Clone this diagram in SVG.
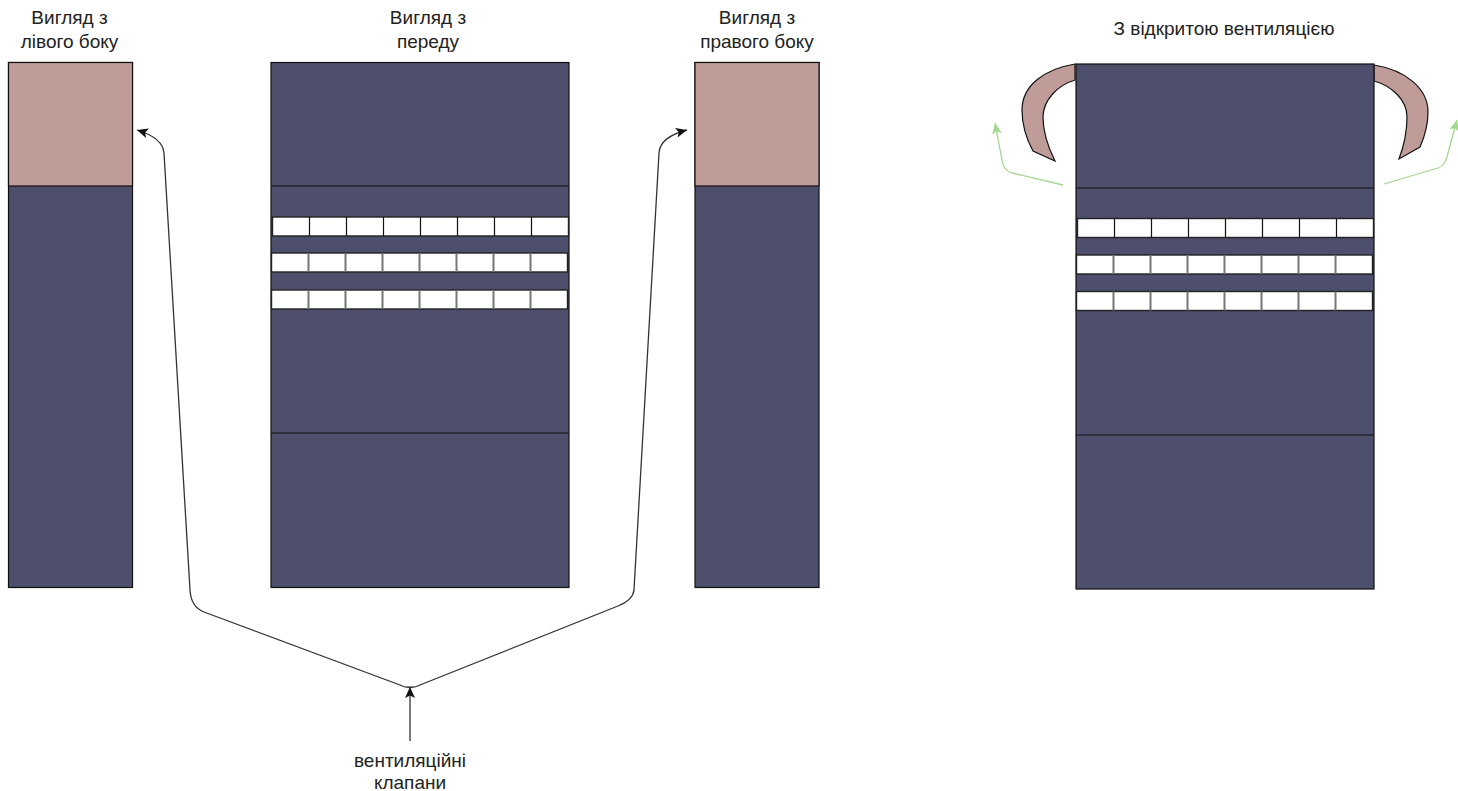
<svg xmlns="http://www.w3.org/2000/svg" width="1458" height="791" viewBox="0 0 1458 791">
<style>
text{font-family:"Liberation Sans",Arial,sans-serif;font-size:19px;fill:#222;text-anchor:middle}
.b{fill:#4d4f6c;stroke:#111;stroke-width:1.2}
.p{fill:#c09c98;stroke:#111;stroke-width:1.2}
.l{stroke:#111;stroke-width:1.2;fill:none}
.w{fill:#fff;stroke:#222;stroke-width:1.4}
.d{stroke:#777;stroke-width:2;fill:none}
.c{fill:none;stroke:#333;stroke-width:1.3}
.g{fill:none;stroke:#a5d68f;stroke-width:1.3}
</style>
<defs>
<marker id="ah" markerUnits="userSpaceOnUse" markerWidth="12" markerHeight="12" refX="11" refY="5" orient="auto"><path d="M0 0L11 5L0 10L2.5 5Z" fill="#111"/></marker>
<marker id="ag" markerUnits="userSpaceOnUse" markerWidth="12" markerHeight="12" refX="11" refY="5" orient="auto"><path d="M0 0L11 5L0 10L2.5 5Z" fill="#a5d68f"/></marker>
<g id="row"><rect class="w" x="0" y="0" width="296" height="19"/><path class="l" stroke-width="1.4" d="M37 0V19M74 0V19M111 0V19M148 0V19M185 0V19M222 0V19M259 0V19"/></g>
<g id="rowb"><rect class="w" x="0" y="0" width="296" height="19"/><path class="d" d="M37 0V19M74 0V19M111 0V19M148 0V19M185 0V19M222 0V19M259 0V19"/></g>
</defs>
<rect width="1458" height="791" fill="#fff"/>
<g id="left-view">
<rect class="b" x="8.500" y="62.500" width="124" height="525"/>
<rect class="p" x="8.500" y="62.500" width="124" height="123.500"/>
<text x="69.500" y="24">Вигляд з</text><text x="69.500" y="48">лівого боку</text>
</g>
<g id="front-view">
<rect class="b" x="271" y="62.500" width="298" height="525"/>
<path class="l" d="M271 186H569M271 433H569"/>
<use href="#row" x="272.500" y="217"/><use href="#rowb" x="271.500" y="253"/><use href="#rowb" x="271.500" y="290"/>
<text x="428" y="24">Вигляд з</text><text x="428" y="48">переду</text>
</g>
<g id="right-view">
<rect class="b" x="695" y="62.500" width="124" height="525"/>
<rect class="p" x="695" y="62.500" width="124" height="123.500"/>
<text x="757" y="24">Вигляд з</text><text x="757" y="48">правого боку</text>
</g>
<g id="open-view">
<path class="p" d="M1075 64C1045 69 1022 85 1022 110C1022 125 1027 140 1033 151L1055 161C1047 145 1043 130 1043 117C1043 100 1058 85 1075 80Z"/>
<path class="p" d="M1374 65C1405 70 1428 88 1428 112C1428 125 1424 138 1420 147L1399 159C1405 143 1407 130 1407 117C1407 100 1392 86 1374 81Z"/>
<rect class="b" x="1076" y="64" width="298" height="525"/>
<path class="l" d="M1076 188H1374M1076 435H1374"/>
<use href="#row" x="1077.500" y="218.500"/><use href="#rowb" x="1076.500" y="255"/><use href="#rowb" x="1076.500" y="291.500"/>
<text x="1224" y="35">З відкритою вентиляцією</text>
</g>
<g id="label"><text x="410" y="767">вентиляційні</text><text x="410" y="789">клапани</text></g>
<g id="connectors">
<path class="c" stroke="#777" marker-end="url(#ah)" d="M410 741V687"/>
<path class="c" marker-end="url(#ah)" d="M410 687Q406 688 400 685L204 612Q191 607 190 590L164 153Q163 138 137 130"/>
<path class="c" marker-end="url(#ah)" d="M410 687Q414 688 420 685L618 606Q633 600 634 590L659 153Q660 137 687 130"/>
<path class="g" marker-end="url(#ag)" d="M1063 185L1012 173Q1003 170 1002 160L995 123"/>
<path class="g" marker-end="url(#ag)" d="M1384 184L1438 168Q1446 165 1448 153L1457 120"/>
</g>
</svg>
